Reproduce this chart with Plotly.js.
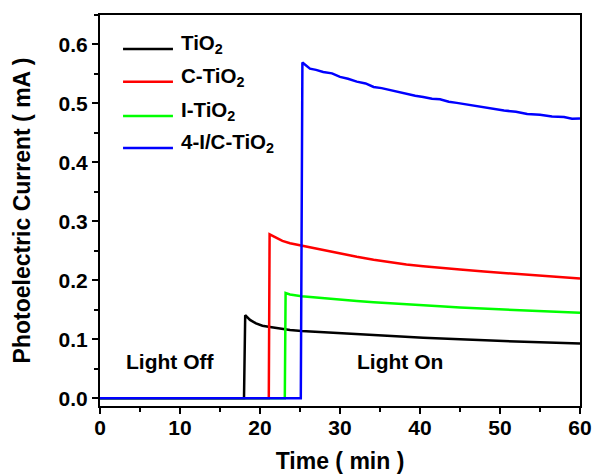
<!DOCTYPE html>
<html>
<head>
<meta charset="utf-8">
<script src="https://cdn.plot.ly/plotly-3.0.1.min.js"></script>
<style>html,body{margin:0;padding:0;background:#fff;}#chart{width:593px;height:474px;}</style>
</head>
<body>
<div id="chart"></div>
<script>
// ---- data ----
const seriesNames = ["TiO<sub>2</sub>", "C-TiO<sub>2</sub>", "I-TiO<sub>2</sub>", "4-I/C-TiO<sub>2</sub>"];
const seriesColors = ["#000000", "#ff0000", "#00ff00", "#0000ff"];

const xBlack = [0, 18.0, 18.15, 18.75, 19.5, 20.3, 21.25, 22.5, 23.75, 25.2, 27.9, 30.0, 32.1, 36.25, 40.4, 45.0, 50.0, 55.0, 60.0];
const yBlack = [0, 0, 0.141, 0.133, 0.127, 0.123, 0.121, 0.118, 0.116, 0.114, 0.112, 0.110, 0.1085, 0.105, 0.1027, 0.100, 0.097, 0.095, 0.093];

const xRed = [0, 21.1, 21.2, 22.0, 22.8, 23.75, 25.2, 27.9, 30.0, 32.1, 34.2, 36.25, 38.3, 40.4, 42.5, 45.0, 48.0, 51.0, 54.0, 57.0, 60.0];
const yRed = [0, 0, 0.278, 0.272, 0.267, 0.263, 0.259, 0.2515, 0.245, 0.240, 0.235, 0.2305, 0.227, 0.224, 0.221, 0.2185, 0.215, 0.212, 0.209, 0.206, 0.203];

const xGreen = [0, 23.1, 23.2, 23.75, 25.2, 27.9, 30.0, 32.1, 34.2, 36.25, 38.3, 40.4, 42.5, 45.0, 48.0, 51.0, 54.0, 57.0, 60.0];
const yGreen = [0, 0, 0.1785, 0.176, 0.173, 0.1695, 0.167, 0.165, 0.163, 0.161, 0.159, 0.1576, 0.156, 0.154, 0.152, 0.150, 0.148, 0.146, 0.145];

const xBlue = [0, 25.1, 25.3, 26.25, 27.0, 27.9, 29.0, 30.0, 31.0, 32.1, 33.2, 34.2, 35.2, 36.25, 37.3, 38.3, 39.4, 40.4, 41.5, 42.5, 43.6, 44.6, 46.0, 47.6, 49.0, 50.5, 52.0, 53.4, 55.0, 56.5, 58.0, 59.0, 60.0];
const yBlue = [0, 0, 0.5695, 0.559, 0.557, 0.5535, 0.551, 0.545, 0.542, 0.537, 0.534, 0.528, 0.526, 0.5225, 0.520, 0.517, 0.513, 0.511, 0.508, 0.507, 0.503, 0.501, 0.498, 0.494, 0.492, 0.488, 0.486, 0.482, 0.481, 0.478, 0.477, 0.474, 0.4746];

const xTickVals = [0, 10, 20, 30, 40, 50, 60];
const yTickVals = [0.0, 0.1, 0.2, 0.3, 0.4, 0.5, 0.6];
const xTitle = "Time ( min )";
const yTitle = "Photoelectric Current ( mA )";
const noteOff = "Light Off";
const noteOn = "Light On";

// ---- drawing ----
const xs = [xBlack, xRed, xGreen, xBlue];
const ys = [yBlack, yRed, yGreen, yBlue];
const traces = xs.map((x, i) => ({
  x: x, y: ys[i], type: "scatter", mode: "lines", name: seriesNames[i],
  line: {color: seriesColors[i], width: 2.5}, showlegend: false
}));

const fontFam = "Liberation Sans, Arial, sans-serif";
const legRowsY = [0.913, 0.829, 0.742, 0.660];
const shapes = [];
const annotations = [];
seriesNames.forEach((n, i) => {
  shapes.push({type: "line", xref: "paper", yref: "paper", x0: 0.048, x1: 0.152,
    y0: legRowsY[i], y1: legRowsY[i], line: {color: seriesColors[i], width: 2.5}});
  annotations.push({xref: "paper", yref: "paper", x: 0.164, y: legRowsY[i] + 0.012,
    xanchor: "left", yanchor: "middle", text: n, showarrow: false,
    font: {family: fontFam, size: 20.5, color: "#000", weight: "bold"}});
});
annotations.push({xref: "x", yref: "y", x: 8.75, y: 0.062, text: noteOff, showarrow: false,
  font: {family: fontFam, size: 21, color: "#000", weight: "bold"}});
annotations.push({xref: "x", yref: "y", x: 37.5, y: 0.062, text: noteOn, showarrow: false,
  font: {family: fontFam, size: 21, color: "#000", weight: "bold"}});

const axisCommon = {
  showgrid: false, zeroline: false, showline: true, mirror: true,
  linecolor: "#000", linewidth: 2, ticks: "outside", ticklen: 6, tickwidth: 2, tickcolor: "#000",
  tickfont: {family: fontFam, size: 21, color: "#000", weight: "bold"}
};

const layout = {
  width: 593, height: 474,
  margin: {l: 100, r: 13, t: 15, b: 68},
  paper_bgcolor: "#fff", plot_bgcolor: "#fff",
  showlegend: false,
  xaxis: Object.assign({}, axisCommon, {
    range: [0, 60], tickvals: xTickVals, ticktext: xTickVals.map(String),
    ticklabelstandoff: -4,
    minor: {ticks: "outside", ticklen: 4, tickwidth: 2, tickcolor: "#000", dtick: 5, showgrid: false},
    title: {text: xTitle, standoff: 18, font: {family: fontFam, size: 23, color: "#000", weight: "bold"}}
  }),
  yaxis: Object.assign({}, axisCommon, {
    range: [-0.013, 0.65], tickvals: yTickVals, ticktext: yTickVals.map(v => v.toFixed(1)),
    minor: {ticks: "outside", ticklen: 4, tickwidth: 2, tickcolor: "#000", dtick: 0.05, tick0: 0, showgrid: false},
    title: {text: yTitle, standoff: 22, font: {family: fontFam, size: 23, color: "#000", weight: "bold"}}
  }),
  shapes: shapes,
  annotations: annotations
};

Plotly.newPlot("chart", traces, layout, {displayModeBar: false, staticPlot: true});
</script>
</body>
</html>
